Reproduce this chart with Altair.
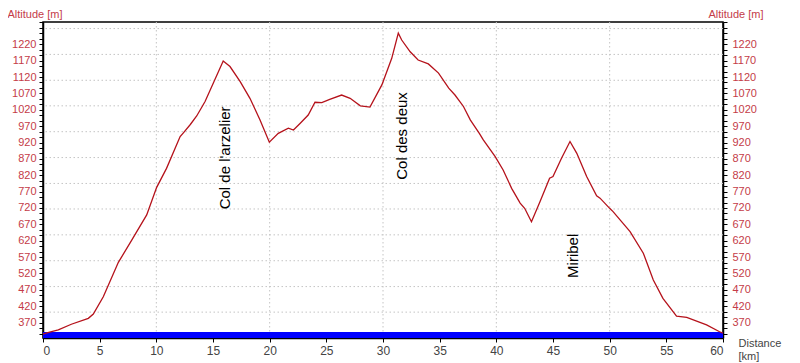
import altair as alt
import pandas as pd

# ---- data ----
km = [0.0, 0.5, 1.35, 2.5, 4.0, 4.44, 5.32, 6.65, 7.83, 9.15, 10.03, 10.9, 12.1,
      12.35, 13.0, 13.56, 14.3, 15.9, 16.5, 17.4, 18.26, 19.15, 19.97, 20.76, 21.65,
      22.1, 22.7, 23.4, 24.0, 24.6, 25.3, 26.35, 27.1, 28.0, 28.85, 29.9, 30.77,
      31.35, 31.65, 32.4, 33.1, 34.0, 34.9, 35.8, 36.35, 37.1, 37.7, 38.5, 38.85,
      39.9, 40.6, 41.35, 42.1, 42.5, 43.1, 43.85, 44.7, 45.0, 45.75, 46.5, 47.1,
      47.97, 48.85, 49.15, 50.0, 50.3, 51.8, 52.97, 53.85, 54.7, 55.9, 56.8, 58.55,
      59.7, 60.0]
altitude = [335, 340, 348, 365, 383, 396, 449, 554, 622, 699, 783, 841, 938,
            948, 975, 1001, 1045, 1169, 1152, 1106, 1055, 989, 921, 948, 964,
            958, 979, 1004, 1043, 1042, 1052, 1065, 1055, 1032, 1028, 1096, 1177,
            1254, 1233, 1197, 1172, 1160, 1132, 1086, 1065, 1030, 989, 948, 928,
            877, 836, 780, 735, 719, 678, 739, 811, 816, 872, 923, 887,
            816, 757, 750, 719, 709, 648, 582, 500, 444, 390, 386, 363,
            342, 338]

x_label_values = list(range(0, 61, 5))
grid_km = [10, 20, 30, 40, 50]
grid_alt = [402, 480, 559, 638, 717, 795, 874, 953, 1032, 1110, 1189, 1268]
band_km = [0, 60]
band_alt = [323, 341]
ann_text = ["Col de l'arzelier", "Col des deux", "Miribel"]
ann_km = [16.06, 31.7, 46.8]
ann_alt = [873, 940, 574]

x_domain = [0, 60]
y_domain = [323, 1288]

y_tick_values = [round(370 + k * 50 / 3, 2) for k in range(-2, 56)
                 if y_domain[0] <= 370 + k * 50 / 3 <= y_domain[1]]

FONT = "Liberation Sans"
RED = "#c43c48"
GRAY = "#444444"
LINE = "#b5121b"

profile = pd.DataFrame({"km": km, "alt": altitude})
grid_h = pd.DataFrame({"alt": grid_alt})
grid_v = pd.DataFrame({"km": grid_km})
band = pd.DataFrame({"km": [band_km[0]], "km2": [band_km[1]],
                     "alt": [band_alt[0]], "alt2": [band_alt[1]]})
ann = pd.DataFrame({"label": ann_text, "km": ann_km, "alt": ann_alt})

xscale = alt.Scale(domain=x_domain, nice=False, zero=False)
yscale = alt.Scale(domain=y_domain, nice=False, zero=False)

label_expr = ("abs(datum.value - round(datum.value)) < 0.01 && datum.value <= 1220 && "
              "(round(datum.value) - 370) % 50 == 0 ? format(round(datum.value), 'd') : ''")

x_axis = alt.Axis(values=x_label_values, labelFont=FONT, labelFontSize=12,
                  labelColor=GRAY, tickColor="#000", tickSize=4, labelPadding=3,
                  domainColor="#000", domainWidth=1.5, grid=False,
                  title=["Distance", "[km]"], titleFont=FONT, titleFontSize=11,
                  titleFontWeight="normal", titleColor=GRAY, titleAlign="left",
                  titleAnchor="start", titleX=695, titleY=8, titleBaseline="alphabetic",
                  titleLineHeight=13.5, titleAngle=0)

left_axis = alt.Axis(orient="left", values=y_tick_values, labelExpr=label_expr,
                     labelFont=FONT, labelFontSize=11, labelColor=RED, tickColor="#000",
                     tickSize=4, labelPadding=3, domainColor="#000", domainWidth=1.5,
                     grid=False, title="Altitude [m]", titleFont=FONT, titleFontSize=11,
                     titleFontWeight="normal", titleColor=RED, titleAngle=0,
                     titleAlign="left", titleX=-36, titleY=-5, titleBaseline="alphabetic",
                     labelOverlap=False)

right_axis = alt.Axis(orient="right", values=y_tick_values, labelExpr=label_expr,
                      labelFont=FONT, labelFontSize=11, labelColor=RED, tickColor="#000",
                      tickSize=4, labelPadding=5, domainColor="#000", domainWidth=1.5,
                      grid=False, title="Altitude [m]", titleFont=FONT, titleFontSize=11,
                      titleFontWeight="normal", titleColor=RED, titleAngle=0,
                      titleAlign="left", titleX=-15, titleY=-5, titleBaseline="alphabetic",
                      labelOverlap=False)

X = alt.X("km:Q", scale=xscale, axis=x_axis)
YL = alt.Y("alt:Q", scale=yscale, axis=left_axis)

gh = alt.Chart(grid_h).mark_rule(color="#c4c4c4", strokeDash=[1.5, 2.5], strokeWidth=1).encode(
    y=YL)
gv = alt.Chart(grid_v).mark_rule(color="#c4c4c4", strokeDash=[1.5, 2.5], strokeWidth=1).encode(
    x=X)
bd = alt.Chart(band).mark_rect(color="#0000ff").encode(
    x=X, x2="km2:Q", y=YL, y2="alt2:Q")
ln = alt.Chart(profile).mark_line(color=LINE, strokeWidth=1.3).encode(x=X, y=YL)
tx = alt.Chart(ann).mark_text(angle=270, font=FONT, fontSize=15, color="#000",
                              align="center", baseline="middle").encode(
    x=X, y=YL, text="label:N")

right = alt.Chart(profile).mark_line(opacity=0).encode(
    x=X, y=alt.Y("alt:Q", scale=yscale, axis=right_axis))

inner = alt.layer(gh, gv, bd, ln, tx)
chart = alt.layer(inner, right).resolve_scale(y="shared").resolve_axis(y="independent").properties(
    width=680, height=316,
    autosize=alt.AutoSizeParams(type="none"),
    padding={"left": 35, "top": 14, "right": 62, "bottom": 25},
    background="#ffffff",
).configure_view(stroke="#000", strokeWidth=1.5)

chart.save("out.html", embed_options={"renderer": "svg", "actions": False})
